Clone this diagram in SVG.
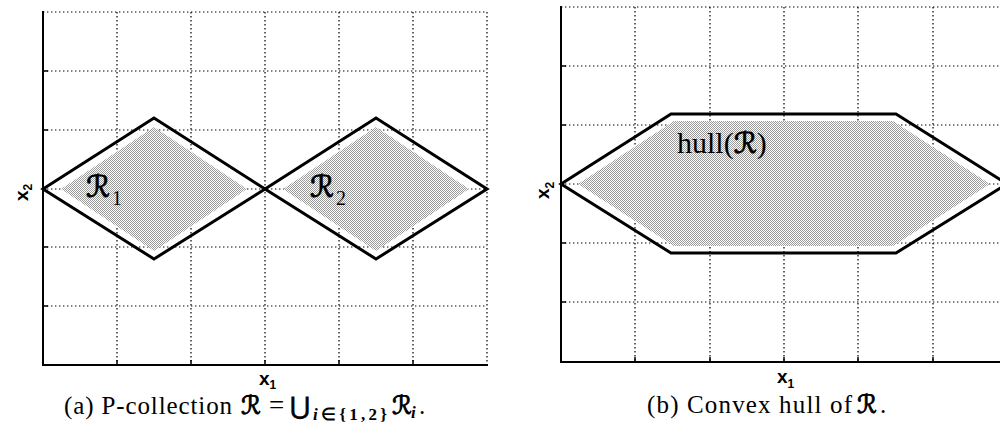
<svg xmlns="http://www.w3.org/2000/svg" width="1000" height="430" viewBox="0 0 1000 430">
<style>
.grid{stroke:#000;stroke-width:1.2;stroke-dasharray:1.4 2.6;fill:none}
.axis{stroke:#000;stroke-width:2;fill:none}
.tick{stroke:#000;stroke-width:1.5}
.outline{fill:none;stroke:#000;stroke-width:3;stroke-linejoin:miter}
.shade{fill:url(#stip);stroke:none}
.serif{font-family:"Liberation Serif","Times New Roman",serif;fill:#000}
.scr{font-family:"DejaVu Serif","DejaVu Sans",serif;fill:#000;stroke:#000;stroke-width:0.9}
.ax{font-family:"Liberation Sans",Arial,sans-serif;font-weight:bold;fill:#000}
</style>
<defs>
<pattern id="stip" width="2" height="2" patternUnits="userSpaceOnUse">
<rect width="2" height="2" fill="#fff"/>
<rect width="1" height="1" fill="#9a9a9a"/>
<rect x="1" y="1" width="1" height="1" fill="#9a9a9a"/>
</pattern>
</defs>
<rect width="1000" height="430" fill="#fff"/>

<g id="plot-a">
<g id="grid-a">
<line class="grid" x1="117" y1="12" x2="117" y2="365"/>
<line class="grid" x1="191" y1="12" x2="191" y2="365"/>
<line class="grid" x1="265" y1="12" x2="265" y2="365"/>
<line class="grid" x1="339" y1="12" x2="339" y2="365"/>
<line class="grid" x1="413" y1="12" x2="413" y2="365"/>
<line class="grid" x1="487" y1="12" x2="487" y2="365"/>
<line class="grid" x1="43" y1="12" x2="487" y2="12"/>
<line class="grid" x1="43" y1="71" x2="487" y2="71"/>
<line class="grid" x1="43" y1="130" x2="487" y2="130"/>
<line class="grid" x1="43" y1="189" x2="487" y2="189"/>
<line class="grid" x1="43" y1="247" x2="487" y2="247"/>
<line class="grid" x1="43" y1="306" x2="487" y2="306"/>
</g>
<g id="region-r1">
<polygon class="shade" points="61,189 154,127 247,189 154,251"/>
<polygon class="outline" points="43,189 154,118 265,189 154,259"/>
<text class="scr" x="86" y="197" font-size="30">ℛ</text>
<text class="serif" x="112" y="205" font-size="20">1</text>
</g>
<g id="region-r2">
<polygon class="shade" points="283,189 376,127 469,189 376,251"/>
<polygon class="outline" points="265,189 376,118 487,189 376,259"/>
<text class="scr" x="310" y="197" font-size="30">ℛ</text>
<text class="serif" x="336" y="205" font-size="20">2</text>
</g>
<g id="axes-a">
<line class="axis" x1="43" y1="11" x2="43" y2="366"/>
<line class="axis" x1="42" y1="365" x2="488" y2="365"/>
<line class="tick" x1="43" y1="71" x2="48" y2="71"/>
<line class="tick" x1="43" y1="130" x2="48" y2="130"/>
<line class="tick" x1="43" y1="247" x2="48" y2="247"/>
<line class="tick" x1="43" y1="306" x2="48" y2="306"/>
<line class="tick" x1="117" y1="365" x2="117" y2="360"/>
<line class="tick" x1="191" y1="365" x2="191" y2="360"/>
<line class="tick" x1="265" y1="365" x2="265" y2="360"/>
<line class="tick" x1="339" y1="365" x2="339" y2="360"/>
<line class="tick" x1="413" y1="365" x2="413" y2="360"/>
<text class="ax" x="259" y="385" font-size="19">x<tspan font-size="12" dy="4">1</tspan></text>
<text class="ax" transform="translate(28,201) rotate(-90)" font-size="19">x<tspan font-size="12" dy="4">2</tspan></text>
</g>
<text id="caption-a" class="serif" y="414" font-size="25"><tspan x="64" textLength="168" lengthAdjust="spacing">(a) P-collection</tspan><tspan class="scr" x="241" font-size="25" stroke-width="0.7">ℛ</tspan><tspan x="269" font-size="27">=</tspan><tspan class="scr" x="290" font-size="24" stroke-width="0.4">⋃</tspan><tspan x="313" y="420" font-size="17" font-weight="bold" textLength="74" lengthAdjust="spacing"><tspan font-style="italic">i</tspan>∈{1,2}</tspan><tspan class="scr" x="392" y="414" font-size="25" stroke-width="0.7">ℛ</tspan><tspan x="411" y="418" font-size="17" font-style="italic" font-weight="bold">i</tspan><tspan x="419" y="414">.</tspan></text>
</g>

<g id="plot-b">
<g id="grid-b">
<line class="grid" x1="635" y1="7" x2="635" y2="362"/>
<line class="grid" x1="710" y1="7" x2="710" y2="362"/>
<line class="grid" x1="784" y1="7" x2="784" y2="362"/>
<line class="grid" x1="858" y1="7" x2="858" y2="362"/>
<line class="grid" x1="933" y1="7" x2="933" y2="362"/>
<line class="grid" x1="561" y1="7" x2="1000" y2="7"/>
<line class="grid" x1="561" y1="66" x2="1000" y2="66"/>
<line class="grid" x1="561" y1="125" x2="1000" y2="125"/>
<line class="grid" x1="561" y1="184" x2="1000" y2="184"/>
<line class="grid" x1="561" y1="243" x2="1000" y2="243"/>
<line class="grid" x1="561" y1="302" x2="1000" y2="302"/>
</g>
<g id="region-hull">
<polygon class="shade" points="578,184 674,121 893,121 990,184 893,246 674,246"/>
<polygon class="outline" points="561,184 671,114 896,114 1007,184 896,253 671,253"/>
<text class="serif" x="677" y="153" font-size="30">hull(<tspan class="scr" font-size="29" stroke-width="0.7">ℛ</tspan>)</text>
</g>
<g id="axes-b">
<line class="axis" x1="561" y1="6" x2="561" y2="363"/>
<line class="axis" x1="560" y1="362" x2="1000" y2="362"/>
<line class="tick" x1="561" y1="66" x2="566" y2="66"/>
<line class="tick" x1="561" y1="125" x2="566" y2="125"/>
<line class="tick" x1="561" y1="243" x2="566" y2="243"/>
<line class="tick" x1="561" y1="302" x2="566" y2="302"/>
<line class="tick" x1="635" y1="362" x2="635" y2="357"/>
<line class="tick" x1="710" y1="362" x2="710" y2="357"/>
<line class="tick" x1="784" y1="362" x2="784" y2="357"/>
<line class="tick" x1="858" y1="362" x2="858" y2="357"/>
<line class="tick" x1="933" y1="362" x2="933" y2="357"/>
<text class="ax" x="777" y="383" font-size="19">x<tspan font-size="12" dy="5">1</tspan></text>
<text class="ax" transform="translate(549,199) rotate(-90)" font-size="19">x<tspan font-size="12" dy="5">2</tspan></text>
</g>
<text id="caption-b" class="serif" y="413" font-size="25"><tspan x="647" textLength="205" lengthAdjust="spacing">(b) Convex hull of</tspan><tspan class="scr" x="857" font-size="25" stroke-width="0.7">ℛ</tspan><tspan x="880">.</tspan></text>
</g>
</svg>
